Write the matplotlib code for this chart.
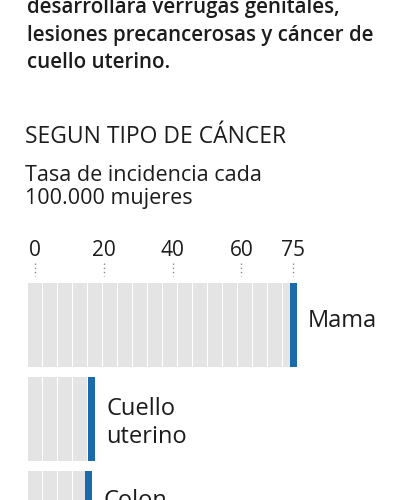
import matplotlib
matplotlib.use('Agg')

import matplotlib.pyplot as plt
import numpy as np

# ---------------------------
# DATA
# ---------------------------
cancer_types = ["Mama", "Cuello\nuterino", "Colon"]
incidence = [75, 16.4, 15.6]
tick_values = [0, 20, 40, 60, 75]

intro_lines = ["desarrollara verrugas genitales,",
               "lesiones precancerosas y cáncer de",
               "cuello uterino."]
title = "SEGUN TIPO DE CÁNCER"
subtitle = "Tasa de incidencia cada\n100.000 mujeres"

# ---------------------------
# STYLE
# ---------------------------
plt.rcParams['font.family'] = ['Open Sans', 'DejaVu Sans']
TEXT = "#1c1c1c"
GRAY = "#e4e4e4"
BLUE = "#1b6aa9"

W, H = 400, 500
px_per_unit = 3.44
x0_px = 35

fig = plt.figure(figsize=(W / 100, H / 100), dpi=100)
fig.patch.set_facecolor("white")
ax = fig.add_axes([0, 0, 1, 1])
ax.set_xlim(-x0_px / px_per_unit, (W - x0_px) / px_per_unit)
ax.set_ylim(H, 0)
ax.axis("off")

# ---------------------------
# TEXTS
# ---------------------------
for i, line in enumerate(intro_lines):
    ax.text(-2.3, 8 + 27 * i, line, fontsize=14.8, fontweight="semibold",
            color=TEXT, va="center", ha="left")

ax.text(-2.8, 137, title, fontsize=16.5, color=TEXT, va="center", ha="left")
ax.text(-2.8, 187, subtitle, fontsize=15.5, color=TEXT, va="center",
        ha="left", linespacing=1.15)

# ticks
for v in tick_values:
    ax.text(v, 251, str(v), fontsize=15, color=TEXT, ha="center", va="center")
    ax.vlines(v, 263, 276, color="#8a8a8a", linestyle=(0, (1, 2)), lw=1)

# ---------------------------
# BARS
# ---------------------------
row_top = 283
row_pitch = 94
bar_h = 84
stripe_step = 4.36
stripe_w = 3.9
label_dy = [38, 46, 30]

for i, (name, val) in enumerate(zip(cancer_types, incidence)):
    top = row_top + row_pitch * i
    starts = np.arange(-2, val - 0.5, stripe_step)
    for s in starts:
        w = min(stripe_w, val - 1 - s)
        ax.bar(s, bar_h, width=w, bottom=top, align="edge",
               color=GRAY, edgecolor="none")
    ax.bar(val - 1, bar_h, width=2.1, bottom=top, align="edge",
           color=BLUE, edgecolor="none")
    ax.text(val + 4.4, top + label_dy[i], name, fontsize=17,
            fontweight="medium", color=TEXT, ha="left", va="center",
            linespacing=1.2)

fig.savefig("out.png", dpi=100)
